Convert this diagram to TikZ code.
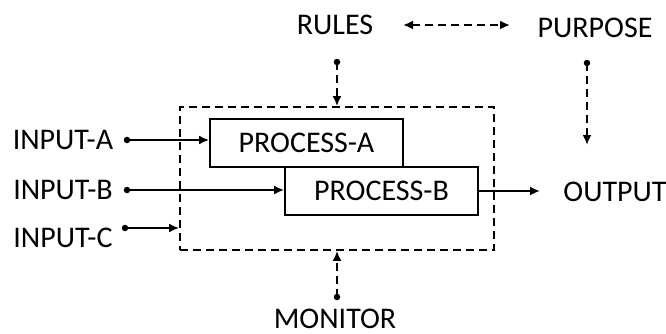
\documentclass[tikz,border=0pt]{standalone}
\usepackage{fontspec}
\setmainfont{Carlito}
\usetikzlibrary{arrows.meta,positioning}

\begin{document}
\begin{tikzpicture}[
  x=1pt, y=-1pt,
  lbl/.style={font=\fontsize{30}{34}\selectfont, inner sep=0pt},
  proc/.style={draw, line width=1.7pt, minimum width=193pt,
    minimum height=48pt, font=\fontsize{30}{34}\selectfont},
  arr/.style={-{Latex[length=10pt,width=9pt]}, line width=2.5pt},
  darr/.style={arr, dash pattern=on 8pt off 5pt},
  dot/.style={circle, fill, inner sep=0pt, minimum size=6.5pt},
]
\useasboundingbox (0,0) rectangle (666,333);
% system boundary
\node[draw, dash pattern=on 8pt off 5pt, line width=1.7pt,
  minimum width=314pt, minimum height=143pt] (sys) at (337,178.5) {};
\node[proc] (pa) at (306.5,143) {PROCESS-A};
\node[proc] (pb) at (381.5,191) {PROCESS-B};
% labels
\node[lbl] (ina) at (63,140) {INPUT-A};
\node[lbl] (inb) at (63,190) {INPUT-B};
\node[lbl] (inc) at (63,238) {INPUT-C};
\node[lbl] (rules) at (335,25) {RULES};
\node[lbl] (purp) at (595,28) {PURPOSE};
\node[lbl] (out) at (615,192) {OUTPUT};
\node[lbl] (mon) at (335,319) {MONITOR};
% dots
\node[dot] (da) at (127,140) {};
\node[dot] (db) at (127,190) {};
\node[dot] (dc) at (125,228) {};
\node[dot] (dr) at (337,62) {};
\node[dot] (dp) at (587,63) {};
\node[dot] (dm) at (337,297) {};
\coordinate (rl) at (403,25);
\coordinate (rr) at (510,25);
\coordinate (pe) at (587,145);
\coordinate (oe) at (540,191);
% connectors
\draw[arr] (da.center) -- (da.center -| pa.west);
\draw[arr] (db.center) -- (db.center -| pb.west);
\draw[arr] (dc.center) -- (dc.center -| sys.west);
\draw[arr] (pb.east) -- (oe);
\draw[darr, {Latex[length=10pt,width=9pt]}-{Latex[length=10pt,width=9pt]}] (rl) -- (rr);
\draw[darr] (dr.center) -- (sys.north);
\draw[darr] (dp.center) -- (pe);
\draw[darr] (dm.center) -- (sys.south);
\end{tikzpicture}
\end{document}
